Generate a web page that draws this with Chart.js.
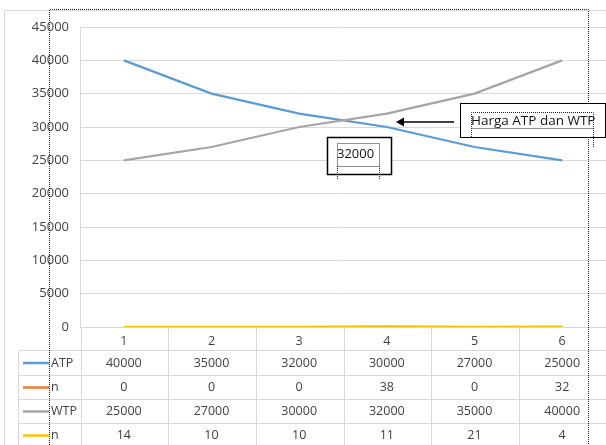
<!DOCTYPE html>
<html>
<head>
<meta charset="utf-8">
<script src="https://cdn.jsdelivr.net/npm/chart.js@4.4.1/dist/chart.umd.min.js"></script>
<style>
  html, body { margin: 0; padding: 0; background: #fff; }
  #wrap { width: 606px; height: 445px; position: relative; }
</style>
</head>
<body>
<div id="wrap"><canvas id="chart" width="606" height="445"></canvas></div>
<script>
// Chart values
const categories = ['1', '2', '3', '4', '5', '6'];
const atp = [40000, 35000, 32000, 30000, 27000, 25000];
const nFirst = [0, 0, 0, 38, 0, 32];
const wtp = [25000, 27000, 30000, 32000, 35000, 40000];
const nSecond = [14, 10, 10, 11, 21, 4];
const seriesNames = ['ATP', 'n', 'WTP', 'n'];
const seriesColors = ['#5B9BD5', '#ED7D31', '#A5A5A5', '#FFC000'];
const yMax = 45000;
const yStep = 5000;
const calloutText = 'Harga ATP dan WTP';
const labelText = '32000';

const FONT = '"Open Sans", "Noto Sans", sans-serif';
const TEXT = '#404040';
const GRID = '#d9d9d9';

// Draws the data table under the plot, using the x scale for columns
const dataTable = {
    id: 'dataTable',
    afterDraw(chart) {
        const ctx = chart.ctx;
        const x = chart.scales.x;
        const area = chart.chartArea;
        const colW = x.getPixelForValue(1) - x.getPixelForValue(0);
        const left = Math.round(x.getPixelForValue(0) - colW / 2) + 0.5;
        const keyLeft = 18.5;
        const headTop = area.bottom;
        const rowTops = [350.5, 375.5, 399.5, 423.5, 447.5];
        const rows = [atp, nFirst, wtp, nSecond];

        ctx.save();
        ctx.strokeStyle = GRID;
        ctx.lineWidth = 1;
        ctx.beginPath();
        // horizontal lines
        rowTops.forEach(y => { ctx.moveTo(keyLeft, y); ctx.lineTo(606, y); });
        // vertical lines
        ctx.moveTo(keyLeft, rowTops[0]); ctx.lineTo(keyLeft, 445);
        for (let i = 0; i <= categories.length; i++) {
            const xx = Math.round(left + i * colW) + 0.5;
            ctx.moveTo(xx, headTop); ctx.lineTo(xx, 445);
        }
        ctx.stroke();

        ctx.font = '12.5px ' + FONT;
        ctx.fillStyle = TEXT;
        ctx.textBaseline = 'middle';
        rows.forEach((vals, r) => {
            const cy = (rowTops[r] + rowTops[r + 1]) / 2;
            // legend key
            ctx.strokeStyle = seriesColors[r];
            ctx.lineWidth = 2.5;
            ctx.beginPath();
            ctx.moveTo(23, cy); ctx.lineTo(49, cy);
            ctx.stroke();
            ctx.textAlign = 'left';
            ctx.fillText(seriesNames[r], 51, cy);
            ctx.textAlign = 'center';
            vals.forEach((v, i) => {
                ctx.fillText(String(v), x.getPixelForValue(i), cy);
            });
        });
        ctx.restore();
    }
};

// Callouts, chart frame and the dotted selection outlines
const extras = {
    id: 'extras',
    afterDraw(chart) {
        const ctx = chart.ctx;
        ctx.save();
        // chart frame
        ctx.strokeStyle = GRID;
        ctx.lineWidth = 1;
        ctx.beginPath();
        ctx.moveTo(4.5, 445); ctx.lineTo(4.5, 10.5); ctx.lineTo(606, 10.5);
        ctx.stroke();

        // "Harga ATP dan WTP" box
        ctx.fillStyle = '#fff';
        ctx.fillRect(460, 103, 145, 34);
        ctx.strokeStyle = '#000';
        ctx.lineWidth = 1;
        ctx.strokeRect(460.5, 103.5, 145, 34);
        ctx.font = '13.5px ' + FONT;
        ctx.fillStyle = '#111';
        ctx.textAlign = 'left';
        ctx.textBaseline = 'middle';
        ctx.fillText(calloutText, 471, 121);

        // arrow
        ctx.strokeStyle = '#000';
        ctx.lineWidth = 1.5;
        ctx.beginPath();
        ctx.moveTo(454, 122); ctx.lineTo(402, 122);
        ctx.stroke();
        ctx.fillStyle = '#000';
        ctx.beginPath();
        ctx.moveTo(396, 122); ctx.lineTo(404, 117.5); ctx.lineTo(404, 126.5);
        ctx.closePath();
        ctx.fill();

        // "32000" box
        ctx.fillStyle = '#fff';
        ctx.fillRect(327, 137, 64, 37);
        ctx.strokeRect(327.5, 137.5, 64, 37);
        ctx.font = '13px ' + FONT;
        ctx.fillStyle = '#111';
        ctx.fillText(labelText, 337, 154);

        // dotted selection outlines
        ctx.strokeStyle = '#222';
        ctx.lineWidth = 1;
        ctx.setLineDash([1, 1]);
        ctx.beginPath();
        ctx.moveTo(49.5, 445); ctx.lineTo(49.5, 9.5); ctx.lineTo(588.5, 9.5); ctx.lineTo(588.5, 103);
        ctx.moveTo(588.5, 137); ctx.lineTo(588.5, 445);
        // around callout text
        ctx.moveTo(471.5, 137); ctx.lineTo(471.5, 112.5); ctx.lineTo(593.5, 112.5); ctx.lineTo(593.5, 147);
        ctx.moveTo(471.5, 128.5); ctx.lineTo(593.5, 128.5);
        // around label text
        ctx.rect(337.5, 143.5, 42, 23);
        ctx.moveTo(337.5, 166); ctx.lineTo(337.5, 180);
        ctx.moveTo(379.5, 166); ctx.lineTo(379.5, 180);
        ctx.stroke();
        ctx.restore();
    }
};

const datasets = [atp, nFirst, wtp, nSecond].map((vals, i) => ({
    label: seriesNames[i],
    data: vals,
    borderColor: seriesColors[i],
    backgroundColor: seriesColors[i],
    borderWidth: 2.25,
    pointRadius: 0,
    fill: false,
    tension: 0,
    order: 3 - i
}));

const ctx = document.getElementById('chart').getContext('2d');
new Chart(ctx, {
    type: 'line',
    data: { labels: categories, datasets: datasets },
    options: {
        responsive: false,
        animation: false,
        events: [],
        layout: { padding: { top: 27, left: 0, right: 0, bottom: 95 } },
        plugins: {
            legend: { display: false },
            tooltip: { enabled: false }
        },
        scales: {
            x: {
                offset: true,
                grid: { display: false, drawTicks: false },
                border: { display: false },
                ticks: { color: TEXT, font: { family: FONT, size: 12.5 }, padding: 7, maxRotation: 0 },
                afterFit(scale) { scale.height = 23; }
            },
            y: {
                min: 0,
                max: yMax,
                grid: { color: GRID, drawTicks: false },
                border: { display: true, color: GRID },
                ticks: {
                    stepSize: yStep,
                    color: TEXT,
                    font: { family: FONT, size: 13 },
                    padding: 11,
                    callback: v => String(v)
                },
                afterFit(scale) { scale.width = 80; }
            }
        }
    },
    plugins: [dataTable, extras]
});
</script>
</body>
</html>
